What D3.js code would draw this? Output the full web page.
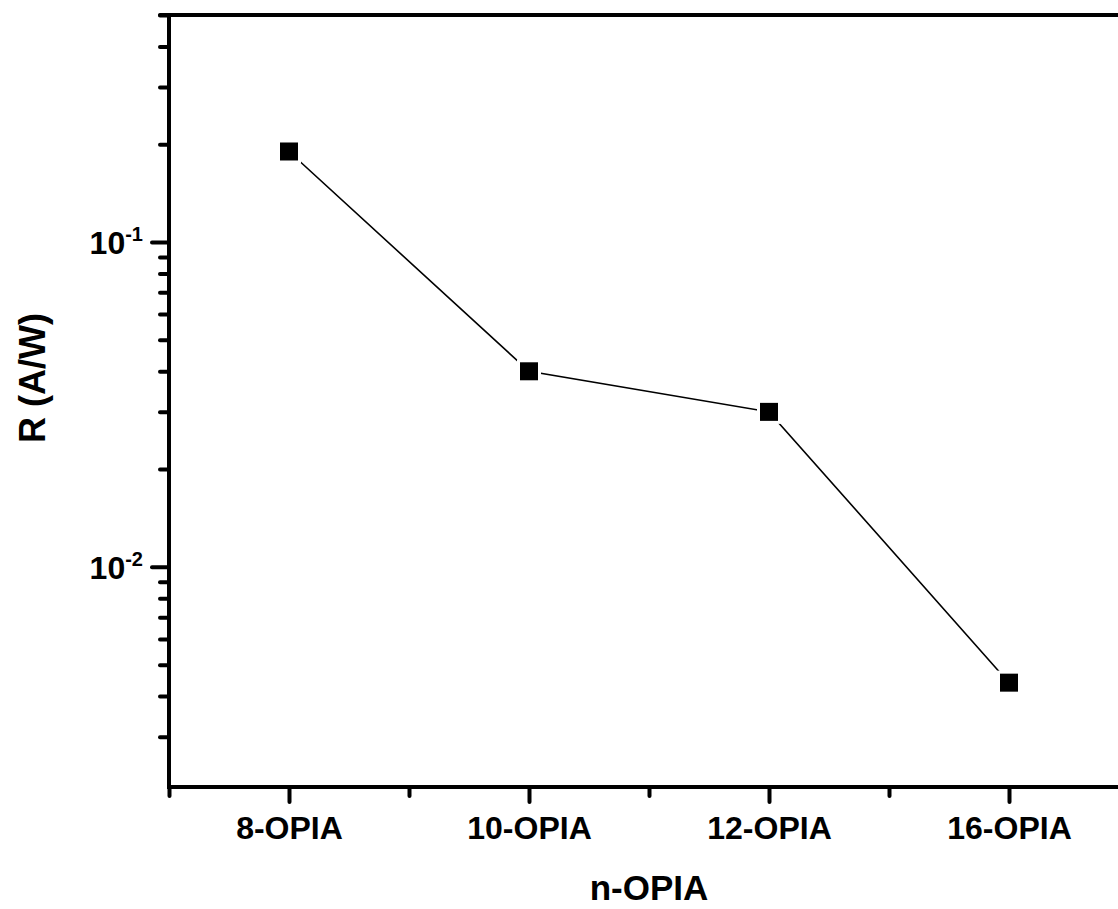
<!DOCTYPE html>
<html>
<head>
<meta charset="utf-8">
<script src="https://cdn.jsdelivr.net/npm/d3@7"></script>
<style>
    body { margin: 0; background: #fff; }
    svg text { font-family: "Liberation Sans", Arial, sans-serif; font-weight: bold; fill: #000; }
</style>
</head>
<body>
<div id="chart"></div>
<script>
// chart values
const categories = ["8-OPIA", "10-OPIA", "12-OPIA", "16-OPIA"];
const responsivity = [0.19, 0.040, 0.030, 0.0044];
const yMajorTicks = [0.01, 0.1];
const yDomain = [0.0021, 0.5];

const W = 1118, H = 909;
const margin = {top: 15, left: 169, bottom: 122};
const plotBottom = H - margin.bottom;

const svg = d3.select("#chart").append("svg")
    .attr("width", W)
    .attr("height", H);

// categories sit at 1..n, axis spans half a step either side
const x = d3.scaleLinear()
    .domain([0.5, categories.length + 0.5])
    .range([margin.left, margin.left + 240 * categories.length]);

const y = d3.scaleLog()
    .domain(yDomain)
    .range([plotBottom, margin.top]);

const pts = categories.map((c, i) => ({cat: c, pos: i + 1, value: responsivity[i]}));

// minor ticks, y
const yMinor = y.ticks().filter(v => !yMajorTicks.some(m => Math.abs(m - v) < 1e-12));
svg.append("g")
    .attr("transform", `translate(${margin.left},0)`)
    .call(d3.axisLeft(y).tickValues(yMinor).tickSize(9).tickFormat(""))
    .call(g => g.select(".domain").remove())
    .selectAll("line").attr("stroke-width", 4).attr("stroke-linecap", "round");

// major ticks, y
const yAxis = svg.append("g")
    .attr("transform", `translate(${margin.left},0)`)
    .call(d3.axisLeft(y).tickValues(yMajorTicks).tickSize(17).tickPadding(9).tickFormat(""));
yAxis.select(".domain").remove();
yAxis.selectAll("line").attr("stroke-width", 4).attr("stroke-linecap", "round");
yAxis.selectAll("text").each(function(d) {
    const t = d3.select(this)
        .attr("font-size", 32)
        .attr("dy", "0.36em");
    t.append("tspan").text("10");
    t.append("tspan")
        .attr("font-size", 20)
        .attr("dy", -13)
        .text(Math.round(Math.log10(d)));
});

// minor ticks, x (between categories)
const xMinor = d3.range(0.5, categories.length + 1, 1);
svg.append("g")
    .attr("transform", `translate(0,${plotBottom})`)
    .call(d3.axisBottom(x).tickValues(xMinor).tickSize(9).tickFormat(""))
    .call(g => g.select(".domain").remove())
    .selectAll("line").attr("stroke-width", 4).attr("stroke-linecap", "round");

// major ticks, x
const xAxis = svg.append("g")
    .attr("transform", `translate(0,${plotBottom})`)
    .call(d3.axisBottom(x).tickValues(pts.map(d => d.pos)).tickSize(15).tickPadding(14)
        .tickFormat((d, i) => categories[i]));
xAxis.select(".domain").remove();
xAxis.selectAll("line").attr("stroke-width", 4).attr("stroke-linecap", "round");
xAxis.selectAll("text").attr("font-size", 32).attr("dy", "0.71em");

// frame: left, bottom and top lines (right side runs off the page)
svg.append("line")
    .attr("x1", margin.left).attr("x2", margin.left)
    .attr("y1", margin.top - 2).attr("y2", plotBottom + 2)
    .attr("stroke", "#000").attr("stroke-width", 4);
svg.append("line")
    .attr("x1", margin.left - 2).attr("x2", W)
    .attr("y1", plotBottom).attr("y2", plotBottom)
    .attr("stroke", "#000").attr("stroke-width", 4);
svg.append("line")
    .attr("x1", margin.left - 9).attr("x2", W)
    .attr("y1", margin.top).attr("y2", margin.top)
    .attr("stroke", "#000").attr("stroke-width", 4)
    .attr("stroke-linecap", "round");

// data line
svg.append("path")
    .datum(pts)
    .attr("fill", "none")
    .attr("stroke", "#000")
    .attr("stroke-width", 1.6)
    .attr("d", d3.line().x(d => x(d.pos)).y(d => y(d.value)));

// markers with a white gap round them
const s = 18;
svg.selectAll(".halo")
    .data(pts)
    .join("rect")
    .attr("class", "halo")
    .attr("x", d => x(d.pos) - s / 2 - 3)
    .attr("y", d => y(d.value) - s / 2 - 3)
    .attr("width", s + 6).attr("height", s + 6)
    .attr("fill", "#fff");
svg.selectAll(".marker")
    .data(pts)
    .join("rect")
    .attr("class", "marker")
    .attr("x", d => x(d.pos) - s / 2)
    .attr("y", d => y(d.value) - s / 2)
    .attr("width", s).attr("height", s)
    .attr("fill", "#000");

// axis titles
svg.append("text")
    .attr("x", 649)
    .attr("y", 900)
    .attr("text-anchor", "middle")
    .attr("font-size", 35)
    .text("n-OPIA");

svg.append("text")
    .attr("transform", "translate(45,378) rotate(-90)")
    .attr("text-anchor", "middle")
    .attr("font-size", 36)
    .text("R (A/W)");
</script>
</body>
</html>
